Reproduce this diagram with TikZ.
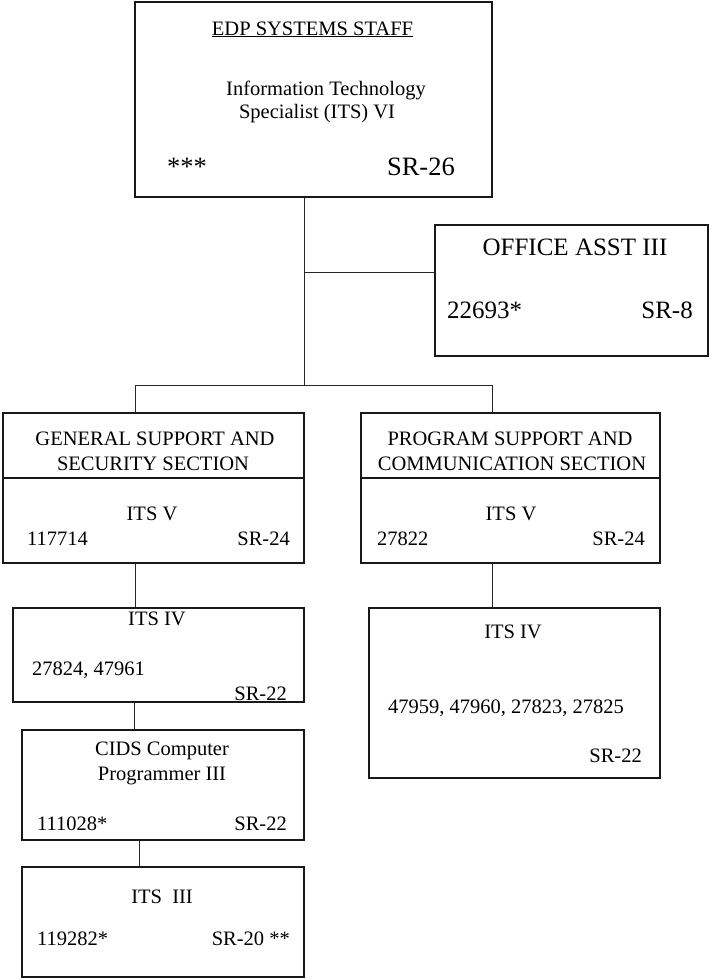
\documentclass[tikz,border=0pt]{standalone}
\usepackage{fontspec}
\setmainfont{Liberation Serif}
\begin{document}
\begin{tikzpicture}[x=1pt,y=-1pt,
  box/.style={draw=black!90, line width=1.3pt, rectangle, inner sep=0pt},
  conn/.style={draw=black!85, line width=1pt},
  txt/.style={inner sep=0pt, font=\fontsize{20.5}{24}\selectfont},
  big/.style={inner sep=0pt, font=\fontsize{25}{29}\selectfont},
  huge/.style={inner sep=0pt, font=\fontsize{26.5}{30}\selectfont},
  cb/.style={anchor=base},
  lb/.style={anchor=base west},
  rb/.style={anchor=base east}]
\useasboundingbox (0,0) rectangle (719,980);
\fill[white] (0,0) rectangle (719,980);

% boxes
\node[box, minimum width=357pt, minimum height=195pt] (top) at (313.5,99.5) {};
\node[box, minimum width=273pt, minimum height=131pt] (office) at (571.5,290.5) {};
\node[box, minimum width=301pt, minimum height=150pt] (secL) at (153.5,488) {};
\node[box, minimum width=299pt, minimum height=150pt] (secR) at (510.5,488) {};
\node[box, minimum width=291pt, minimum height=94pt] (itsL) at (158.5,655) {};
\node[box, minimum width=282pt, minimum height=110pt] (cids) at (163,785) {};
\node[box, minimum width=282pt, minimum height=110pt] (its3) at (163,922) {};
\node[box, minimum width=291pt, minimum height=170pt] (itsR) at (514.5,693) {};

% section dividers
\draw[box] (secL.west |- 0,478) -- (secL.east |- 0,478);
\draw[box] (secR.west |- 0,478) -- (secR.east |- 0,478);

% connector coordinates
\coordinate (tj) at (304,385);
\coordinate (oj) at (304,272);
\coordinate (busL) at (135,385);
\coordinate (busR) at (492,385);
\coordinate (c1) at (134,0);
\coordinate (c2) at (139,0);

\draw[conn] (top.south -| tj) -- (tj);
\draw[conn] (oj) -- (oj -| office.west);
\draw[conn] (busL) -- (busR);
\draw[conn] (busL) -- (busL |- secL.north);
\draw[conn] (busR) -- (busR |- secR.north);
\draw[conn] (secL.south -| busL) -- (busL |- itsL.north);
\draw[conn] (secR.south -| busR) -- (busR |- itsR.north);
\draw[conn] (itsL.south -| c1) -- (c1 |- cids.north);
\draw[conn] (cids.south -| c2) -- (c2 |- its3.north);

% top box text
\node[txt, cb] (t1) at (312.5,35) {\underline{EDP SYSTEMS STAFF}};
\node[txt, cb] (t2) at (326,95) {Information Technology};
\node[txt, cb] (t3) at (317,118) {Specialist (ITS) VI};
\node[huge, lb] (t4) at (167,175) {***};
\node[huge, rb] (t5) at (455,175) {SR-26};

% office
\node[big, cb] (o1) at (575,255) {OFFICE ASST III};
\node[big, lb] (o2) at (447,318) {22693*};
\node[big, rb] (o3) at (693,318) {SR-8};

% left section
\node[txt, cb] (l1) at (155,445) {GENERAL SUPPORT AND};
\node[txt, cb] (l2) at (153,470) {SECURITY SECTION};
\node[txt, cb] (l3) at (152,520) {ITS V};
\node[txt, lb] (l4) at (27,545) {117714};
\node[txt, rb] (l5) at (290,545) {SR-24};

% right section
\node[txt, cb] (r1) at (510,445) {PROGRAM SUPPORT AND};
\node[txt, cb] (r2) at (512,470) {COMMUNICATION SECTION};
\node[txt, cb] (r3) at (511,520) {ITS V};
\node[txt, lb] (r4) at (377,545) {27822};
\node[txt, rb] (r5) at (645,545) {SR-24};

% left ITS IV
\node[txt, cb] (a1) at (157,625) {ITS IV};
\node[txt, lb] (a2) at (32,675) {27824, 47961};
\node[txt, rb] (a3) at (287,700) {SR-22};

% CIDS
\node[txt, cb] (b1) at (162,755) {CIDS Computer};
\node[txt, cb] (b2) at (162,780) {Programmer III};
\node[txt, lb] (b3) at (37,830) {111028*};
\node[txt, rb] (b4) at (287,830) {SR-22};

% ITS III
\node[txt, cb] (d1) at (162,903) {ITS\ \ III};
\node[txt, lb] (d2) at (37,945) {119282*};
\node[txt, rb] (d3) at (290,945) {SR-20 **};

% right ITS IV
\node[txt, cb] (e1) at (513,638) {ITS IV};
\node[txt, lb] (e2) at (388,713) {47959, 47960, 27823, 27825};
\node[txt, rb] (e3) at (642,762) {SR-22};
\end{tikzpicture}
\end{document}
